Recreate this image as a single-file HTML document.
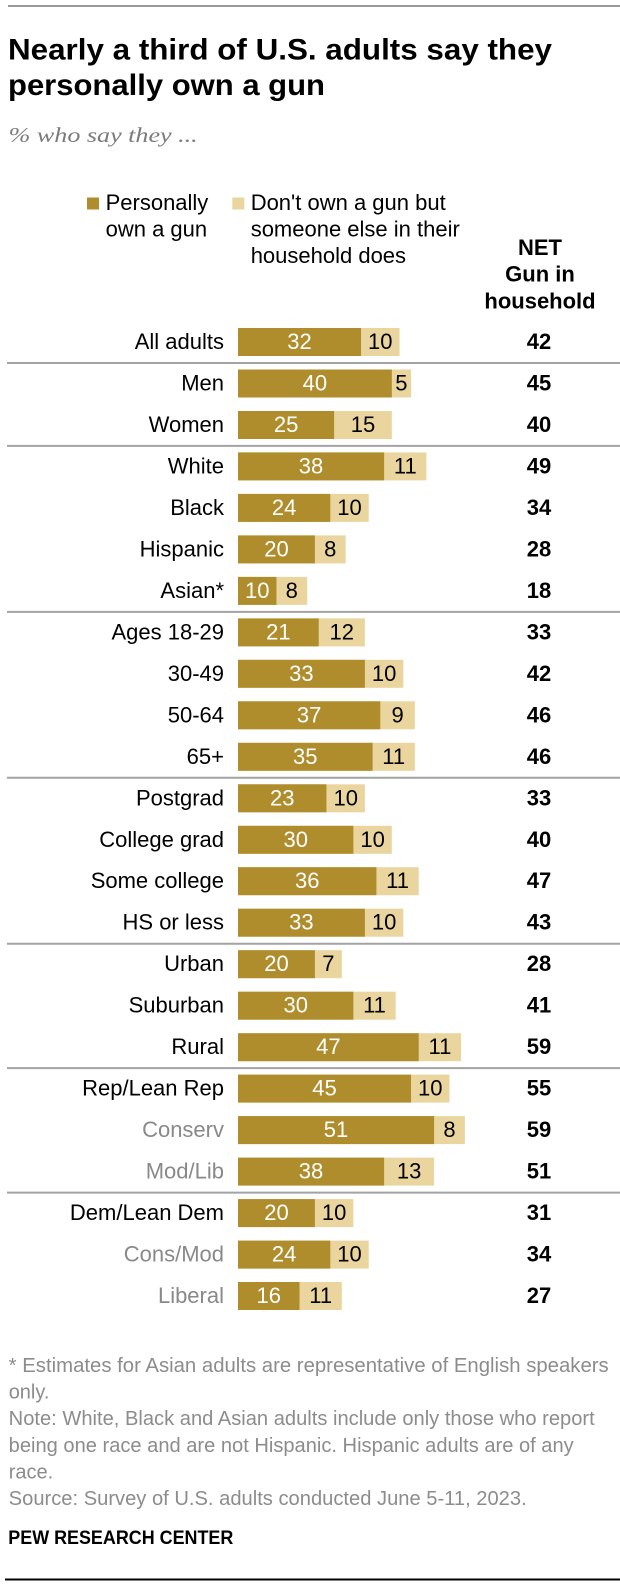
<!DOCTYPE html>
<html>
<head>
<meta charset="utf-8">
<style>
html,body{margin:0;padding:0;background:#fff;}
svg{display:block;}
.lab{font-family:"Liberation Sans",Arial,sans-serif;font-size:22px;fill:#000;text-anchor:end;}
.g{fill:#898989;}
.vd{font-family:"Liberation Sans",Arial,sans-serif;font-size:22px;fill:#fff;text-anchor:middle;}
.vl{font-family:"Liberation Sans",Arial,sans-serif;font-size:22px;fill:#000;text-anchor:middle;}
.net{font-family:"Liberation Sans",Arial,sans-serif;font-size:22px;font-weight:bold;fill:#000;text-anchor:middle;}
.leg{font-family:"Liberation Sans",Arial,sans-serif;font-size:22px;fill:#000;}
.fn{font-family:"Liberation Sans",Arial,sans-serif;font-size:20px;fill:#8c8c8c;}
</style>
</head>
<body>
<svg width="620" height="1588" viewBox="0 0 620 1588" xmlns="http://www.w3.org/2000/svg">
<rect x="0" y="0" width="620" height="1588" fill="#fff"/>
<line x1="8" y1="6" x2="620" y2="6" stroke="#9a9a9a" stroke-width="2"/>

<text x="8" y="59.5" font-family="Liberation Sans, Arial, sans-serif" font-size="30" font-weight="bold" fill="#000" textLength="544" lengthAdjust="spacingAndGlyphs">Nearly a third of U.S. adults say they</text>
<text x="8" y="95" font-family="Liberation Sans, Arial, sans-serif" font-size="30" font-weight="bold" fill="#000" textLength="317" lengthAdjust="spacingAndGlyphs">personally own a gun</text>
<text x="8.7" y="142" font-family="Liberation Serif, serif" font-style="italic" font-size="21" fill="#7b7b7b" textLength="189" lengthAdjust="spacingAndGlyphs">% who say they ...</text>

<!-- legend -->
<rect x="87" y="197.5" width="12" height="12" fill="#AF8D2D"/>
<text class="leg" x="105.6" y="210">Personally</text>
<text class="leg" x="105.6" y="236.5">own a gun</text>
<rect x="232.3" y="197.5" width="12" height="12" fill="#E9D59D"/>
<text class="leg" x="250.7" y="210">Don't own a gun but</text>
<text class="leg" x="250.7" y="236.5">someone else in their</text>
<text class="leg" x="250.7" y="263">household does</text>

<text class="net" x="540" y="255" font-size="21">NET</text>
<text class="net" x="540" y="281.7" font-size="21">Gun in</text>
<text class="net" x="540" y="308.3" font-size="21">household</text>

<!-- separators -->
<g stroke="#a3a3a3" stroke-width="2">
<line x1="7" y1="363" x2="620" y2="363"/>
<line x1="7" y1="445.9" x2="620" y2="445.9"/>
<line x1="7" y1="611.9" x2="620" y2="611.9"/>
<line x1="7" y1="777.8" x2="620" y2="777.8"/>
<line x1="7" y1="943.7" x2="620" y2="943.7"/>
<line x1="7" y1="1068.1" x2="620" y2="1068.1"/>
<line x1="7" y1="1192.6" x2="620" y2="1192.6"/>
</g>

<!-- rows -->
<g>
<!-- 0 -->
<rect x="238" y="328" width="161.49" height="28" fill="#E9D59D"/><rect x="238" y="328" width="123.04" height="28" fill="#AF8D2D"/>
<text class="lab" x="224" y="349">All adults</text><text class="vd" x="299.5" y="349">32</text><text class="vl" x="380.3" y="349">10</text><text class="net" x="539" y="349">42</text>
<!-- 1 -->
<rect x="238" y="369.5" width="173.03" height="28" fill="#E9D59D"/><rect x="238" y="369.5" width="153.8" height="28" fill="#AF8D2D"/>
<text class="lab" x="224" y="390.5">Men</text><text class="vd" x="314.9" y="390.5">40</text><text class="vl" x="401.4" y="390.5">5</text><text class="net" x="539" y="390.5">45</text>
<!-- 2 -->
<rect x="238" y="411" width="153.8" height="28" fill="#E9D59D"/><rect x="238" y="411" width="96.13" height="28" fill="#AF8D2D"/>
<text class="lab" x="224" y="432">Women</text><text class="vd" x="286.1" y="432">25</text><text class="vl" x="363" y="432">15</text><text class="net" x="539" y="432">40</text>
<!-- 3 -->
<rect x="238" y="452.4" width="188.41" height="28" fill="#E9D59D"/><rect x="238" y="452.4" width="146.11" height="28" fill="#AF8D2D"/>
<text class="lab" x="224" y="473.4">White</text><text class="vd" x="311" y="473.4">38</text><text class="vl" x="405.3" y="473.4">11</text><text class="net" x="539" y="473.4">49</text>
<!-- 4 -->
<rect x="238" y="493.9" width="130.73" height="28" fill="#E9D59D"/><rect x="238" y="493.9" width="92.28" height="28" fill="#AF8D2D"/>
<text class="lab" x="224" y="514.9">Black</text><text class="vd" x="284.1" y="514.9">24</text><text class="vl" x="349.5" y="514.9">10</text><text class="net" x="539" y="514.9">34</text>
<!-- 5 -->
<rect x="238" y="535.4" width="107.66" height="28" fill="#E9D59D"/><rect x="238" y="535.4" width="76.9" height="28" fill="#AF8D2D"/>
<text class="lab" x="224" y="556.4">Hispanic</text><text class="vd" x="276.5" y="556.4">20</text><text class="vl" x="330.3" y="556.4">8</text><text class="net" x="539" y="556.4">28</text>
<!-- 6 -->
<rect x="238" y="576.9" width="69.21" height="28" fill="#E9D59D"/><rect x="238" y="576.9" width="38.45" height="28" fill="#AF8D2D"/>
<text class="lab" x="224" y="597.9">Asian*</text><text class="vd" x="257.2" y="597.9">10</text><text class="vl" x="291.8" y="597.9">8</text><text class="net" x="539" y="597.9">18</text>
<!-- 7 -->
<rect x="238" y="618.4" width="126.89" height="28" fill="#E9D59D"/><rect x="238" y="618.4" width="80.75" height="28" fill="#AF8D2D"/>
<text class="lab" x="224" y="639.4">Ages 18-29</text><text class="vd" x="278.4" y="639.4">21</text><text class="vl" x="341.8" y="639.4">12</text><text class="net" x="539" y="639.4">33</text>
<!-- 8 -->
<rect x="238" y="659.8" width="165.34" height="28" fill="#E9D59D"/><rect x="238" y="659.8" width="126.89" height="28" fill="#AF8D2D"/>
<text class="lab" x="224" y="680.8">30-49</text><text class="vd" x="301.4" y="680.8">33</text><text class="vl" x="384.1" y="680.8">10</text><text class="net" x="539" y="680.8">42</text>
<!-- 9 -->
<rect x="238" y="701.3" width="176.88" height="28" fill="#E9D59D"/><rect x="238" y="701.3" width="142.27" height="28" fill="#AF8D2D"/>
<text class="lab" x="224" y="722.3">50-64</text><text class="vd" x="309.1" y="722.3">37</text><text class="vl" x="397.6" y="722.3">9</text><text class="net" x="539" y="722.3">46</text>
<!-- 10 -->
<rect x="238" y="742.8" width="176.88" height="28" fill="#E9D59D"/><rect x="238" y="742.8" width="134.58" height="28" fill="#AF8D2D"/>
<text class="lab" x="224" y="763.8">65+</text><text class="vd" x="305.3" y="763.8">35</text><text class="vl" x="393.7" y="763.8">11</text><text class="net" x="539" y="763.8">46</text>
<!-- 11 -->
<rect x="238" y="784.3" width="126.89" height="28" fill="#E9D59D"/><rect x="238" y="784.3" width="88.44" height="28" fill="#AF8D2D"/>
<text class="lab" x="224" y="805.3">Postgrad</text><text class="vd" x="282.2" y="805.3">23</text><text class="vl" x="345.7" y="805.3">10</text><text class="net" x="539" y="805.3">33</text>
<!-- 12 -->
<rect x="238" y="825.8" width="153.8" height="28" fill="#E9D59D"/><rect x="238" y="825.8" width="115.35" height="28" fill="#AF8D2D"/>
<text class="lab" x="224" y="846.8">College grad</text><text class="vd" x="295.7" y="846.8">30</text><text class="vl" x="372.6" y="846.8">10</text><text class="net" x="539" y="846.8">40</text>
<!-- 13 -->
<rect x="238" y="867.2" width="180.72" height="28" fill="#E9D59D"/><rect x="238" y="867.2" width="138.42" height="28" fill="#AF8D2D"/>
<text class="lab" x="224" y="888.2">Some college</text><text class="vd" x="307.2" y="888.2">36</text><text class="vl" x="397.6" y="888.2">11</text><text class="net" x="539" y="888.2">47</text>
<!-- 14 -->
<rect x="238" y="908.7" width="165.34" height="28" fill="#E9D59D"/><rect x="238" y="908.7" width="126.89" height="28" fill="#AF8D2D"/>
<text class="lab" x="224" y="929.7">HS or less</text><text class="vd" x="301.4" y="929.7">33</text><text class="vl" x="384.1" y="929.7">10</text><text class="net" x="539" y="929.7">43</text>
<!-- 15 -->
<rect x="238" y="950.2" width="103.82" height="28" fill="#E9D59D"/><rect x="238" y="950.2" width="76.9" height="28" fill="#AF8D2D"/>
<text class="lab" x="224" y="971.2">Urban</text><text class="vd" x="276.5" y="971.2">20</text><text class="vl" x="328.4" y="971.2">7</text><text class="net" x="539" y="971.2">28</text>
<!-- 16 -->
<rect x="238" y="991.7" width="157.65" height="28" fill="#E9D59D"/><rect x="238" y="991.7" width="115.35" height="28" fill="#AF8D2D"/>
<text class="lab" x="224" y="1012.7">Suburban</text><text class="vd" x="295.7" y="1012.7">30</text><text class="vl" x="374.5" y="1012.7">11</text><text class="net" x="539" y="1012.7">41</text>
<!-- 17 -->
<rect x="238" y="1033.2" width="223.02" height="28" fill="#E9D59D"/><rect x="238" y="1033.2" width="180.72" height="28" fill="#AF8D2D"/>
<text class="lab" x="224" y="1054.2">Rural</text><text class="vd" x="328.4" y="1054.2">47</text><text class="vl" x="439.9" y="1054.2">11</text><text class="net" x="539" y="1054.2">59</text>
<!-- 18 -->
<rect x="238" y="1074.6" width="211.48" height="28" fill="#E9D59D"/><rect x="238" y="1074.6" width="173.03" height="28" fill="#AF8D2D"/>
<text class="lab" x="224" y="1095.6">Rep/Lean Rep</text><text class="vd" x="324.5" y="1095.6">45</text><text class="vl" x="430.3" y="1095.6">10</text><text class="net" x="539" y="1095.6">55</text>
<!-- 19 -->
<rect x="238" y="1116.1" width="226.86" height="28" fill="#E9D59D"/><rect x="238" y="1116.1" width="196.1" height="28" fill="#AF8D2D"/>
<text class="lab g" x="224" y="1137.1">Conserv</text><text class="vd" x="336" y="1137.1">51</text><text class="vl" x="449.5" y="1137.1">8</text><text class="net" x="539" y="1137.1">59</text>
<!-- 20 -->
<rect x="238" y="1157.6" width="196.1" height="28" fill="#E9D59D"/><rect x="238" y="1157.6" width="146.11" height="28" fill="#AF8D2D"/>
<text class="lab g" x="224" y="1178.6">Mod/Lib</text><text class="vd" x="311" y="1178.6">38</text><text class="vl" x="409.1" y="1178.6">13</text><text class="net" x="539" y="1178.6">51</text>
<!-- 21 -->
<rect x="238" y="1199.1" width="115.35" height="28" fill="#E9D59D"/><rect x="238" y="1199.1" width="76.9" height="28" fill="#AF8D2D"/>
<text class="lab" x="224" y="1220.1">Dem/Lean Dem</text><text class="vd" x="276.5" y="1220.1">20</text><text class="vl" x="334.1" y="1220.1">10</text><text class="net" x="539" y="1220.1">31</text>
<!-- 22 -->
<rect x="238" y="1240.6" width="130.73" height="28" fill="#E9D59D"/><rect x="238" y="1240.6" width="92.28" height="28" fill="#AF8D2D"/>
<text class="lab g" x="224" y="1261.6">Cons/Mod</text><text class="vd" x="284.1" y="1261.6">24</text><text class="vl" x="349.5" y="1261.6">10</text><text class="net" x="539" y="1261.6">34</text>
<!-- 23 -->
<rect x="238" y="1282" width="103.82" height="28" fill="#E9D59D"/><rect x="238" y="1282" width="61.52" height="28" fill="#AF8D2D"/>
<text class="lab g" x="224" y="1303">Liberal</text><text class="vd" x="268.8" y="1303">16</text><text class="vl" x="320.7" y="1303">11</text><text class="net" x="539" y="1303">27</text>
</g>

<!-- footnotes -->
<text class="fn" x="8.7" y="1372" textLength="600" lengthAdjust="spacingAndGlyphs">* Estimates for Asian adults are representative of English speakers</text>
<text class="fn" x="8.7" y="1398.6">only.</text>
<text class="fn" x="8.7" y="1425.2" textLength="586" lengthAdjust="spacingAndGlyphs">Note: White, Black and Asian adults include only those who report</text>
<text class="fn" x="8.7" y="1451.8" textLength="565" lengthAdjust="spacingAndGlyphs">being one race and are not Hispanic. Hispanic adults are of any</text>
<text class="fn" x="8.7" y="1478.4">race.</text>
<text class="fn" x="8.7" y="1505" textLength="518" lengthAdjust="spacingAndGlyphs">Source: Survey of U.S. adults conducted June 5-11, 2023.</text>
<text x="8.3" y="1544" font-family="Liberation Sans, Arial, sans-serif" font-size="19.5" font-weight="bold" fill="#000" textLength="225" lengthAdjust="spacingAndGlyphs">PEW RESEARCH CENTER</text>

<line x1="5" y1="1579.5" x2="620" y2="1579.5" stroke="#000" stroke-width="2"/>
</svg>
</body>
</html>
